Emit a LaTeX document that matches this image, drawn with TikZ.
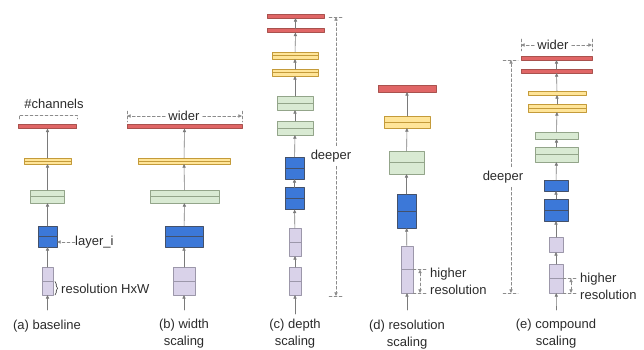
\documentclass[tikz,border=0pt]{standalone}
\usepackage{fontspec}
\setmainfont{Liberation Sans}
\usetikzlibrary{arrows.meta,decorations.pathreplacing}

\definecolor{barred}{HTML}{E06666}
\definecolor{redline}{HTML}{A9524E}
\definecolor{baryel}{HTML}{FFE599}
\definecolor{yelline}{HTML}{C49B3A}
\definecolor{bargrn}{HTML}{D9EAD3}
\definecolor{grnline}{HTML}{93A58A}
\definecolor{barblu}{HTML}{3C78D8}
\definecolor{bluline}{HTML}{44516A}
\definecolor{barpur}{HTML}{D9D2E9}
\definecolor{purline}{HTML}{9C97AA}
\definecolor{flowgray}{HTML}{7A7A7A}
\definecolor{dimgray}{HTML}{8C8C8C}
\definecolor{txtgray}{HTML}{2B2B2B}

\tikzset{
  blk/.style={line width=0.6pt, inner sep=0pt, outer sep=0pt},
  sz/.style 2 args={minimum width=#1pt, minimum height=#2pt},
  halved/.style={path picture={\draw[line width=0.6pt, draw=#1]
      (path picture bounding box.west) -- (path picture bounding box.east);}},
  redbar/.style={blk, fill=barred, draw=redline},
  yelbar/.style={blk, fill=baryel, draw=yelline},
  grnbar/.style={blk, fill=bargrn, draw=grnline},
  blubar/.style={blk, fill=barblu, draw=bluline},
  purbar/.style={blk, fill=barpur, draw=purline},
  flow/.style={draw=flowgray, line width=0.6pt, ->},
  dim/.style={draw=dimgray, densely dashed, line width=0.5pt},
  lbl/.style={font=\fontsize{13}{17}\selectfont, text=txtgray, inner sep=0pt},
}

\begin{document}
\begin{tikzpicture}[x=1pt,y=-1pt,line cap=round,line join=round,
  >={Triangle[length=3.6pt,width=3.2pt]}]
\useasboundingbox (0,0) rectangle (644,350);

% (a) baseline
\coordinate (a0) at (47.5,310);
\node[purbar,halved=purline,sz={11}{28}] (a1) at (47.5,281) {};
\node[blubar,halved=bluline,sz={19}{21}] (a2) at (47.5,236.5) {};
\node[grnbar,halved=grnline,sz={34}{13}] (a3) at (47.5,196.5) {};
\node[yelbar,halved=yelline,sz={47}{6}] (a4) at (47.5,161) {};
\node[redbar,sz={58}{4}] (a5) at (47.5,126.5) {};
\draw[flow] (a0) -- (a1);
\draw[flow] (a1) -- (a2);
\draw[flow] (a2) -- (a3);
\draw[flow] (a3) -- (a4);
\draw[flow] (a4) -- (a5);
\node[lbl] (cha) at (54,104) {\#channels};
\draw[dim] (19,119) -- (19,115) -- (77,115) -- (77,119);
\node[lbl,anchor=west] (lay) at (75,242) {layer\_i};
\draw[dim,->] (lay.west) -- (lay.west -| a2.east);
\draw[draw=txtgray,line width=0.6pt,decorate,decoration={brace,amplitude=2.5pt}] (55,281.5) -- (55,295);
\node[lbl,anchor=west] (res) at (61,288.5) {resolution HxW};
\node[lbl] (capa) at (47,326) {(a) baseline};

% (b) width scaling
\coordinate (b0) at (184,310);
\node[purbar,halved=purline,sz={22}{28}] (b1) at (184,281) {};
\node[blubar,halved=bluline,sz={38}{21}] (b2) at (184,236.5) {};
\node[grnbar,halved=grnline,sz={69}{13}] (b3) at (184.5,196.5) {};
\node[yelbar,halved=yelline,sz={92}{6}] (b4) at (184,161) {};
\node[redbar,sz={115}{4}] (b5) at (184.5,126.5) {};
\draw[flow] (b0) -- (b1);
\draw[flow] (b1) -- (b2);
\draw[flow] (b2) -- (b3);
\draw[flow] (b3) -- (b4);
\draw[flow] (b4) -- (b5);
\node[lbl,fill=white,inner xsep=3pt] (wb) at (184,116) {wider};
\draw[dim] (127,111) -- (127,122);
\draw[dim] (242,111) -- (242,122);
\draw[dim,->] (wb.west) -- (wb.west -| 127,0);
\draw[dim,->] (wb.east) -- (wb.east -| 242,0);
\node[lbl,align=center] (capb) at (184,334) {(b) width\\scaling};

% (c) depth scaling
\coordinate (c0) at (295,314);
\node[purbar,halved=purline,sz={12}{28}] (c1) at (295,281) {};
\node[purbar,halved=purline,sz={12}{28}] (c2) at (295,242) {};
\node[blubar,halved=bluline,sz={19}{22}] (c3) at (294.5,198.5) {};
\node[blubar,halved=bluline,sz={19}{22}] (c4) at (294.5,168) {};
\node[grnbar,halved=grnline,sz={36}{14}] (c5) at (295,128) {};
\node[grnbar,halved=grnline,sz={36}{14}] (c6) at (295,103) {};
\node[yelbar,halved=yelline,sz={46}{7}] (c7) at (295,72.5) {};
\node[yelbar,halved=yelline,sz={46}{7}] (c8) at (295,55.5) {};
\node[redbar,sz={57}{4}] (c9) at (295.5,30.5) {};
\node[redbar,sz={57}{4}] (c10) at (295.5,16) {};
\draw[flow] (c0) -- (c1);
\foreach \i [count=\j from 2] in {1,...,9}
  \draw[flow] (c\i) -- (c\j);
\node[lbl,fill=white,inner ysep=4pt] (dc) at (331,156) {deeper};
\coordinate (ct) at (336,17);
\coordinate (cb) at (336,296);
\draw[dim] (329,17) -- (343,17);
\draw[dim] (329,296) -- (343,296);
\draw[dim,->] (dc.north -| ct) -- (ct);
\draw[dim,->] (dc.south -| cb) -- (cb);
\node[lbl,align=center] (capc) at (295,334) {(c) depth\\scaling};

% (d) resolution scaling
\coordinate (d0) at (407,310);
\node[purbar,halved=purline,sz={12}{47}] (d1) at (407,269.5) {};
\node[blubar,halved=bluline,sz={19}{34}] (d2) at (406.5,211) {};
\node[grnbar,halved=grnline,sz={35}{23}] (d3) at (406.5,162.5) {};
\node[yelbar,halved=yelline,sz={46}{12}] (d4) at (407,122) {};
\node[redbar,sz={58}{7}] (d5) at (407,88.5) {};
\draw[flow] (d0) -- (d1);
\draw[flow] (d1) -- (d2);
\draw[flow] (d2) -- (d3);
\draw[flow] (d3) -- (d4);
\draw[flow] (d4) -- (d5);
\draw[dim] (413,269.5) -- (427,269.5);
\draw[dim] (413,293) -- (427,293);
\draw[dim,<->] (420,269.5) -- (420,293);
\node[lbl,align=left,anchor=west] (hrd) at (430,281.5) {higher\\resolution};
\node[lbl,align=center] (capd) at (407,335) {(d) resolution\\scaling};

% (e) compound scaling
\coordinate (e0) at (556.5,310);
\node[purbar,halved=purline,sz={14}{29}] (e1) at (556,278.5) {};
\node[purbar,sz={14}{15}] (e2) at (556,244.5) {};
\node[blubar,halved=bluline,sz={24}{22}] (e3) at (556,210) {};
\node[blubar,sz={24}{11}] (e4) at (556,185.5) {};
\node[grnbar,halved=grnline,sz={43}{15}] (e5) at (556.5,154.5) {};
\node[grnbar,sz={43}{7}] (e6) at (556.5,135.5) {};
\node[yelbar,halved=yelline,sz={58}{8}] (e7) at (557,108) {};
\node[yelbar,sz={58}{4}] (e8) at (557,93) {};
\node[redbar,sz={71}{4}] (e9) at (556.5,71) {};
\node[redbar,sz={71}{4}] (e10) at (556.5,58) {};
\draw[flow] (e0) -- (e1);
\foreach \i [count=\j from 2] in {1,...,9}
  \draw[flow] (e\i) -- (e\j);
\node[lbl,fill=white,inner xsep=3pt] (we) at (553,45) {wider};
\draw[dim] (521,39) -- (521,51);
\draw[dim] (592,39) -- (592,51);
\draw[dim,->] (we.west) -- (we.west -| 521,0);
\draw[dim,->] (we.east) -- (we.east -| 592,0);
\node[lbl,fill=white,inner ysep=4pt] (de) at (503,177) {deeper};
\coordinate (et) at (511,60);
\coordinate (eb) at (511,293);
\draw[dim] (503,60) -- (518,60);
\draw[dim] (503,293) -- (518,293);
\draw[dim,->] (de.north -| et) -- (et);
\draw[dim,->] (de.south -| eb) -- (eb);
\draw[dim] (563,278.5) -- (577,278.5);
\draw[dim] (563,293) -- (577,293);
\draw[dim,<->] (571,278.5) -- (571,293);
\node[lbl,align=left,anchor=west] (hre) at (580,286.5) {higher\\resolution};
\node[lbl,align=center] (cape) at (556,333.5) {(e) compound\\scaling};
\end{tikzpicture}
\end{document}
